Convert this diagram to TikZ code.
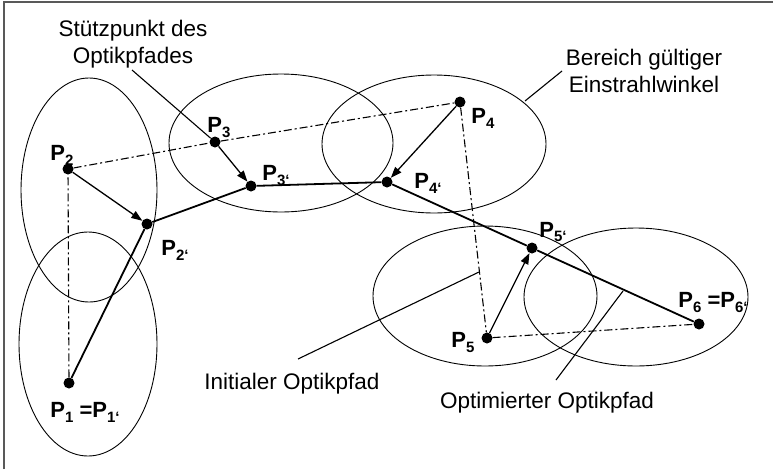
\documentclass[tikz,border=0pt]{standalone}
\usepackage{fontspec}
\setmainfont{Liberation Sans}
\usetikzlibrary{arrows.meta}

\tikzset{
  punkt/.style={circle,fill=black,inner sep=0pt,minimum size=11pt},
  lbl/.style={font=\fontsize{22}{22}\selectfont\bfseries,inner sep=0pt},
  txt/.style={font=\fontsize{22.5}{27}\selectfont,align=center,inner sep=0pt},
  bereich/.style={line width=0.9pt},
  initpfad/.style={line width=1.1pt,dash pattern=on 8pt off 3pt on 2pt off 3pt},
  optpfad/.style={line width=1.8pt},
  verschieb/.style={line width=1.3pt,-{Triangle[length=11pt,width=8pt]}},
  hinweis/.style={line width=1.1pt},
}
\newcommand{\Pidx}[1]{P\raisebox{-5pt}{\fontsize{15}{15}\selectfont #1}}

\begin{document}
\begin{tikzpicture}[x=1pt,y=-1pt]

%FRAME
\useasboundingbox (0,0) rectangle (773,469);
\draw[black!65,line width=1.4pt] (4,469) -- (4,2) -- (773,2);
%FRAME

\draw[bereich] (88,344) ellipse [x radius=69,y radius=112];
\draw[bereich] (89,190) ellipse [x radius=68,y radius=112];
\draw[bereich] (281,143) ellipse [x radius=112,y radius=69];
\draw[bereich] (434,144) ellipse [x radius=112,y radius=69];
\draw[bereich] (485,296) ellipse [x radius=112,y radius=70];
\draw[bereich] (636,297) ellipse [x radius=112,y radius=69];

\node[punkt](p1) at (69,383) {};
\node[punkt](p2) at (68,169) {};
\node[punkt](p2s) at (147,224) {};
\node[punkt](p3) at (215,142) {};
\node[punkt](p3s) at (251,186) {};
\node[punkt](p4) at (460,102) {};
\node[punkt](p4s) at (387,182) {};
\node[punkt](p5) at (487,338) {};
\node[punkt](p5s) at (532,248) {};
\node[punkt](p6) at (699,324) {};

\node[lbl](l1) at (85,412) {\Pidx{1} =\Pidx{1‘}};
\node[lbl](l2) at (62,155) {\Pidx{2}};
\node[lbl](l2s) at (175,250) {\Pidx{2‘}};
\node[lbl](l3) at (219,128) {\Pidx{3}};
\node[lbl](l3s) at (276,176) {\Pidx{3‘}};
\node[lbl](l4) at (483,118) {\Pidx{4}};
\node[lbl](l4s) at (428,183) {\Pidx{4‘}};
\node[lbl](l5) at (463,342) {\Pidx{5}};
\node[lbl](l5s) at (553,232) {\Pidx{5‘}};
\node[lbl](l6) at (713,302) {\Pidx{6} =\Pidx{6‘}};

\draw[initpfad] (p1) -- (p2);
\draw[initpfad] (p2) -- (p3);
\draw[initpfad] (p3) -- (p4);
\draw[initpfad] (p4) -- (p5);
\draw[initpfad] (p5) -- (p6);

\draw[optpfad] (p1) -- (p2s);
\draw[optpfad] (p2s) -- (p3s);
\draw[optpfad] (p3s) -- (p4s);
\draw[optpfad] (p4s) -- (p5s);
\draw[optpfad] (p5s) -- (p6);

\draw[verschieb] (p2) -- (p2s);
\draw[verschieb] (p3) -- (p3s);
\draw[verschieb] (p4) -- (p4s);
\draw[verschieb] (p5) -- (p5s);

\node[txt](stuetz) at (133,44) {Stützpunkt des\\Optikpfades};
\node[txt](winkel) at (644,71) {Bereich gültiger\\Einstrahlwinkel};
\node[txt,anchor=base](init) at (292,389) {Initialer Optikpfad};
\node[txt,anchor=base](opt) at (547,408) {Optimierter Optikpfad};

\coordinate (c1) at (132,70);
\coordinate (c2a) at (562,71);
\coordinate (c2b) at (525,101);
\coordinate (c3a) at (298,359);
\coordinate (c3b) at (479,272);
\coordinate (c4a) at (556,380);
\coordinate (c4b) at (623,291);

\draw[hinweis] (c1) -- (p3);
\draw[hinweis] (c2a) -- (c2b);
\draw[hinweis] (c3a) -- (c3b);
\draw[hinweis] (c4a) -- (c4b);

\end{tikzpicture}
\end{document}
